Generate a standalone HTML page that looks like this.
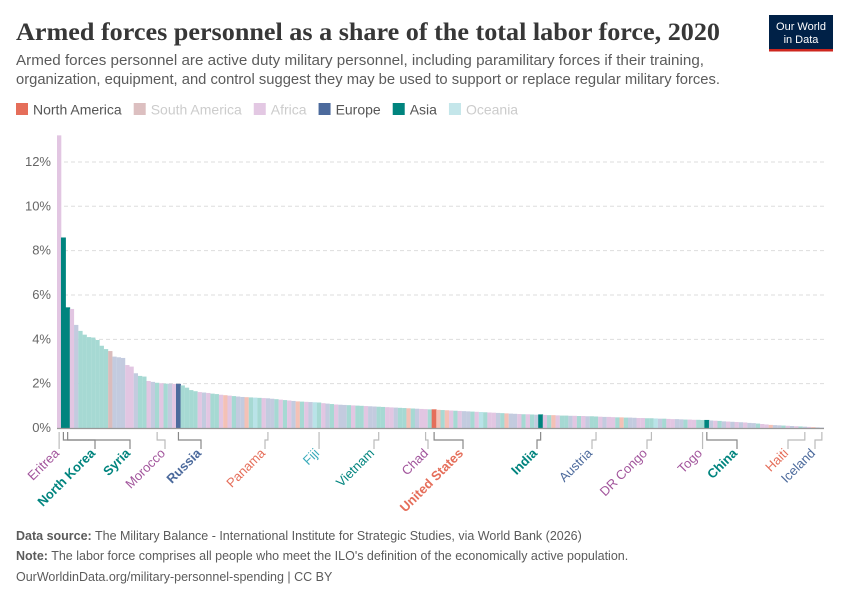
<!DOCTYPE html>
<html><head><meta charset="utf-8"><style>
body{margin:0;background:#fff;}
svg text{font-family:"Liberation Sans",sans-serif;}
</style></head><body>
<svg id="c" width="850" height="600" xmlns="http://www.w3.org/2000/svg">
<text x="16" y="40" style="font-family:'Liberation Serif',serif" font-size="25" font-weight="bold" fill="#373737" textLength="704" lengthAdjust="spacingAndGlyphs">Armed forces personnel as a share of the total labor force, 2020</text>
<text x="16" y="65" font-size="14.5" fill="#5b5b5b" textLength="688" lengthAdjust="spacingAndGlyphs">Armed forces personnel are active duty military personnel, including paramilitary forces if their training,</text>
<text x="16" y="84" font-size="14.5" fill="#5b5b5b" textLength="704" lengthAdjust="spacingAndGlyphs">organization, equipment, and control suggest they may be used to support or replace regular military forces.</text>
<g>
<rect x="769" y="15" width="64" height="35" fill="#002147"/>
<rect x="769" y="49" width="64" height="2.5" fill="#ce261e"/>
<text x="801" y="30" font-size="11" fill="#fff" text-anchor="middle">Our World</text>
<text x="801" y="43" font-size="11" fill="#fff" text-anchor="middle">in Data</text>
</g>
<g id="legend"></g>
<g id="grid"></g>
<g id="bars"></g>
<g id="labels"></g>
<text x="16" y="540" font-size="12.5" fill="#5b5b5b"><tspan font-weight="bold">Data source:</tspan> The Military Balance - International Institute for Strategic Studies, via World Bank (2026)</text>
<text x="16" y="560" font-size="12.5" fill="#5b5b5b"><tspan font-weight="bold">Note:</tspan> The labor force comprises all people who meet the ILO's definition of the economically active population.</text>
<text x="16" y="581" font-size="12.5" fill="#5b5b5b">OurWorldinData.org/military-personnel-spending | CC BY</text>
</svg>
<script>
const values=[13.2,8.58,5.43,5.37,4.65,4.38,4.21,4.1,4.08,3.97,
3.71,3.56,3.47,3.22,3.19,3.16,2.84,2.77,2.47,2.35,
2.32,2.12,2.08,2.04,2.02,2.0,2.0,1.99,1.98,1.92,
1.82,1.71,1.66,1.62,1.6,1.58,1.55,1.53,1.5,1.48,
1.46,1.44,1.42,1.4,1.39,1.38,1.37,1.36,1.35,1.34,
1.32,1.3,1.28,1.26,1.24,1.22,1.2,1.19,1.18,1.17,
1.16,1.15,1.12,1.1,1.08,1.06,1.05,1.04,1.03,1.02,
1.01,1.0,0.99,0.98,0.97,0.96,0.95,0.94,0.93,0.92,
0.91,0.9,0.89,0.88,0.87,0.86,0.85,0.84,0.83,0.82,
0.81,0.8,0.79,0.78,0.77,0.76,0.75,0.74,0.73,0.72,
0.71,0.7,0.69,0.68,0.67,0.66,0.65,0.64,0.63,0.62,
0.62,0.61,0.6,0.6,0.59,0.58,0.58,0.57,0.56,0.56,
0.55,0.55,0.54,0.54,0.53,0.53,0.52,0.51,0.5,0.5,
0.49,0.48,0.48,0.47,0.47,0.46,0.45,0.45,0.44,0.44,
0.43,0.42,0.42,0.41,0.4,0.4,0.39,0.38,0.38,0.37,
0.37,0.36,0.35,0.34,0.33,0.32,0.3,0.29,0.28,0.27,
0.26,0.25,0.23,0.22,0.2,0.18,0.16,0.14,0.13,0.12,
0.11,0.1,0.09,0.08,0.07,0.06,0.05,0.04,0.03,0.02];
const regions=("FAAFEAAAAA"+"AASEEEFFEA"+"AFEAFAEFEA"+"AAAFEFAAFN"+"FAEENAOAFE"+
"EAFAFENAFE"+"OAFEAFEEAF"+"AAFEEAAFFE"+"AANAEFFAFN"+"ANFAFEEAFO"+
"AFFEANEEFA"+"FAEEFANFAA"+"EFAFEAAFEF"+"FANAEEFFAA"+"OEAFFEEAFF"+
"AAFEFAEFEF"+"EFEEAFFNEE"+"AFEFAEFNEE").split("");
const highlighted=[1,2,28,88,113,152];
const highlightedRegion=["A","A","E","N","A","A"];
const labelIdx=[0,1,2,23,28,49,61,75,86,88,113,126,139,151,152,175,179];
const labelNames=["Eritrea","North Korea","Syria","Morocco","Russia","Panama","Fiji","Vietnam","Chad","United States","India","Austria","DR Congo","Togo","China","Haiti","Iceland"];
const labelRegion=["F","A","A","F","E","N","O","A","F","N","A","E","F","F","A","N","E"];
const labelX=[59,95,130,165,201,265,319,374,428,463,537,592,647,702,737,788,815];
const yTicks=[0,2,4,6,8,10,12];
const legendNames=["North America","South America","Africa","Europe","Asia","Oceania"];
const legendColors=["#e56e5a","#dcbfc0","#e3c8e3","#4c6a9c","#00847e","#c4e6ea"];
const legendText=["#555","#ccc","#ccc","#555","#555","#ccc"];

const NS="http://www.w3.org/2000/svg";
const X0=57,X1=824,Y0=428,PX=22.17;
const bw=(X1-X0)/values.length;
const xs=i=>X0+i*bw, ys=v=>Y0-v*PX;
const pale={F:"#e2c6e2",A:"#a6d9d3",E:"#c3cbdf",N:"#f4c1b6",S:"#dbbcbc",O:"#b9e3e8"};
const full={F:"#a2559c",A:"#00847e",E:"#4c6a9c",N:"#e56e5a",S:"#996d6d",O:"#38aaba"};
function mk(t,a,p){const e=document.createElementNS(NS,t);for(const k in a)e.setAttribute(k,a[k]);p.appendChild(e);return e;}

const lg=document.getElementById('legend');
let lx=16;
legendNames.forEach((n,i)=>{
 const g=mk('g',{},lg);
 
 
 mk('rect',{x:lx,y:103,width:12,height:12,fill:legendColors[i]},g);
 const t=mk('text',{x:lx+17,y:114.5,'font-size':14,fill:legendText[i]},g);
 t.textContent=n;
 lx+=17+t.getComputedTextLength()+12;
});

const gg=document.getElementById('grid');
yTicks.forEach(v=>{
 const y=ys(v);
 if(v>0){const l=mk('line',{x1:X0,x2:X1,y1:y,y2:y,stroke:"#ddd","stroke-dasharray":"4,3"},gg);
 
 }
 const t=mk('text',{x:51,y:y+4,'font-size':13,fill:"#666","text-anchor":"end"},gg);
 
 
 t.textContent=v+"%";
});

const bg=document.getElementById('bars');
values.forEach((v,i)=>{
 const hi=highlighted.indexOf(i);
 const r=hi>=0?highlightedRegion[hi]:(regions[i]||"F");
 const h=hi>=0;
 const b=mk('rect',{x:xs(i),y:ys(v),width:bw+0.05,height:v*PX,fill:h?full[r]:pale[r],stroke:h?full[r]:"none","stroke-width":h?0.6:0},bg);
 
 
});
const ax=mk('line',{x1:X0,x2:X1,y1:Y0+0.5,y2:Y0+0.5,stroke:"#999","stroke-width":1.2},bg);



const lbg=document.getElementById('labels');
labelIdx.forEach((idx,k)=>{
 const bx=xs(idx)+bw/2, tx=labelX[k];
 const bold=highlighted.includes(idx);
 const d=Math.abs(bx-tx)<2?`M${bx},432 L${bx},449`:`M${bx},432 L${bx},440 L${tx},440 L${tx},449`;
 const p=mk('path',{d:d,fill:"none",stroke:bold?"#888":"#bbb","stroke-width":1.2},lbg);
 
 
 const t=mk('text',{x:tx+1,y:454,'font-size':13,fill:full[labelRegion[k]],"text-anchor":"end","font-weight":bold?"bold":"normal",transform:`rotate(-45 ${tx+1} 454)`},lbg);
 
 
 t.textContent=labelNames[k];
});
</script>
</body></html>
